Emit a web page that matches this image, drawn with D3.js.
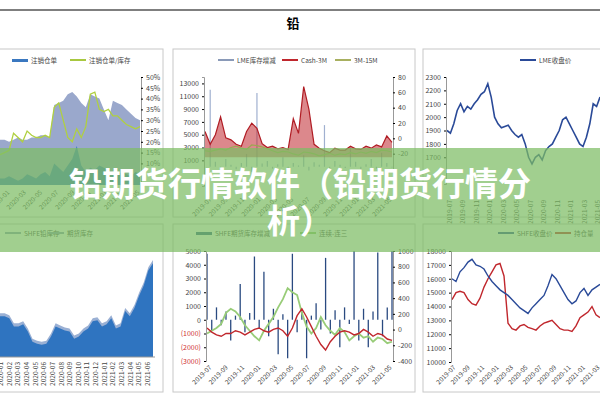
<!DOCTYPE html>
<html><head><meta charset="utf-8">
<script src="https://cdn.jsdelivr.net/npm/d3@7"></script>
<style>body{margin:0;background:#fff}text{font-family:"Noto Sans CJK SC","Noto Sans",sans-serif}</style>
</head><body>
<svg id="c" width="600" height="400"></svg>
<script>
// ---- data ----
const p1Stock = [21,21,20,21,22,21,21,22,22,23,23,22,37,38,39,42,43,41,38,36,42,41,40,35,30,39,38,37,35,33,31,30];
const p1Warrant = [3,3,4,3,2,3,5,4,3,5,6,4,10,8,6,9,12,18,9,6,8,7,9,8,7,6,5,6,5,4,6,5];
const p1Ratio = [14,15,16,24,22,20,25,23,22,22,23,22,36,38,30,22,20,26,22,27,42,43,35,34,35,32,32,30,28,27,26,27];

const p2Change = [0,12000,800,-500,1200,300,-400,600,2000,-800,11500,500,900,-300,400,1500,-200,600,200,1800,-600,700,300,6500,-400,900,300,-200,3000,800,-500,400,1200,-300,2200,600,-100];
const p2Cash = [5500,3500,5000,7800,4500,4200,3500,3200,5500,6800,6000,3600,3000,3200,2800,3000,2700,7500,5200,12500,9000,3500,2900,2500,2200,2900,2600,2600,3200,2800,2700,3200,2900,3400,3100,4800,3800];
const p2Spread = [2500,2400,2600,2800,2600,3000,3200,2900,2700,3400,3300,3100,2800,2500,2200,2400,2300,2000,1800,2300,2200,2000,1700,1900,2100,1800,2000,1900,2200,2000,2300,2100,2400,2200,2600,2500,2300];
const p2Left = [13000,11000,9000,7000,5000,3000,1000];
const p2Right = [80,60,40,20,0,-20];

const p3Price = [1900,1880,1950,2050,2100,2040,2080,2060,2100,2130,2170,2190,2250,2150,2000,1950,1920,1930,1940,1900,1870,1850,1870,1800,1700,1650,1700,1720,1680,1750,1780,1800,1850,1900,1980,2000,1950,1900,1850,1800,1780,1850,1950,2100,2080,2150];
const p3Ticks = [2300,2200,2100,2000,1900,1800,1700];

const p4Stock = [40,40,38,30,30,32,25,15,13,12,13,20,30,28,26,25,18,20,25,28,35,36,30,32,38,28,30,45,40,48,60,70,85,92];
const p4Months = ["2020-01","2020-02","2020-03","2020-04","2020-05","2020-06","2020-07","2020-08","2020-09","2020-10","2020-11","2020-12","2021-01","2021-02","2021-03","2021-04","2021-05","2021-06"];

const p5Change = [4800,-800,900,-400,600,-1500,300,2600,-900,500,4600,-600,3500,-1200,800,-2500,400,-2800,4800,-900,600,-2800,300,1200,-700,4500,-1000,700,-2000,900,-300,5000,-1500,800,-2000,600,4900,-1200,900,5000];
const p5Red = [-600,-900,-1100,-1200,-1000,-1000,-800,-900,-1100,-900,-700,-600,-800,-900,-700,-600,-800,-1200,-600,300,800,200,-500,-1200,-1800,-2200,-1600,-1200,-900,-800,-900,-1100,-1000,-700,-900,-1200,-1000,-1100,-1400,-1500];
const p5Green = [-1000,-800,-600,-300,500,800,600,200,-400,-800,-1200,-1500,-800,-300,200,900,1500,2300,2000,1800,500,-500,-1000,-600,200,-400,-800,-1100,-600,-900,-1500,-1200,-1000,-1300,-1200,-1600,-1300,-1400,-1700,-1600];
const p5Left = [5000,4000,3000,2000,1000,0,-1000,-2000,-3000];
const p5Right = [1000,800,600,400,200,0,-200,-400];
const p5Months = ["2019-07","2019-09","2019-11","2020-01","2020-03","2020-05","2020-07","2020-09","2020-11","2021-01","2021-03","2021-05"];

const p6Shfe = [16000,15800,16500,16800,17200,17400,17000,16900,16700,16200,15800,15500,15200,15000,14800,14500,14200,13900,13700,13500,13900,14200,14500,14800,15500,16300,16000,15500,15000,14500,14200,14400,15000,15300,14800,15200,15400,15600];
const p6Oi = [14500,15000,15100,15000,14500,14200,14100,14600,15400,16000,16500,17000,17100,16200,12800,12400,12300,12600,12700,12500,12400,12300,12600,12800,12900,13000,12700,12400,12300,12300,12200,12600,13200,13400,13600,14000,13400,13200];
const p6Ticks = [18000,17000,16000,15000,14000,13000,12000,11000,10000];
const p6Months = ["2019-07","2019-09","2019-11","2020-01","2020-03","2020-05","2020-07","2020-09","2020-11","2021-01","2021-03"];

const p1Months = ["2020-01","2020-03","2020-05","2020-07","2020-09","2020-11","2021-01","2021-03","2021-05"];
const p2Months = ["2019-07","2019-09","2019-11","2020-01","2020-03","2020-05","2020-07","2020-09","2020-11","2021-01","2021-03","2021-05"];
const p3Months = ["2019-07","2019-09","2019-11","2020-01","2020-03","2020-05","2020-07","2020-09","2020-11","2021-01","2021-03","2021-05"];

const svg = d3.select("#c");
const fmtPar = d => d < 0 ? `(${-d})` : d;

svg.append("line").attr("x1",0).attr("x2",600).attr("y1",10).attr("y2",10).attr("stroke","#555").attr("stroke-width",1.5);
svg.append("text").attr("x",293).attr("y",28).attr("text-anchor","middle").attr("font-size",13).attr("font-weight","bold").text("铅");

function frame(x0,y0,x1,y1){
  svg.append("rect").attr("x",x0).attr("y",y0).attr("width",x1-x0).attr("height",y1-y0)
    .attr("fill","#fff").attr("stroke","#c8c8c8");
}
function legend(items,y){
  items.forEach(([x,label,color,w]) => {
    svg.append("rect").attr("x",x).attr("y",y-2).attr("width",16).attr("height",w||2).attr("fill",color);
    svg.append("text").attr("x",x+19).attr("y",y+2).attr("font-size",6.5).attr("fill","#444").text(label);
  });
}
function axis(gen,x,y,scale,ticks,fmt,color){
  const g = svg.append("g").attr("transform",`translate(${x},${y})`)
    .call(gen(scale).tickValues(ticks).tickSize(2).tickFormat(fmt||(d=>d)));
  g.select(".domain").attr("stroke","#999");
  g.selectAll("text").attr("font-size",7).attr("fill",color||"#444");
  return g;
}
function dateLabels(months,x,y,rot,range){
  const s = d3.scalePoint().domain(months).range(range);
  months.forEach(m => svg.append("text").attr("transform",`translate(${s(m)},${y}) rotate(${rot})`)
    .attr("text-anchor","end").attr("font-size",6.5).attr("fill","#444").text(m));
}
const idx = (arr,r) => d3.scaleLinear().domain([0,arr.length-1]).range(r);
function line(arr,xs,ys,color,w){
  svg.append("path").datum(arr).attr("fill","none").attr("stroke",color).attr("stroke-width",w||1.3)
    .attr("d",d3.line().x((d,i)=>xs(i)).y(d=>ys(d)));
}
function area(arr,xs,ys,base,color){
  svg.append("path").datum(arr).attr("fill",color)
    .attr("d",d3.area().x((d,i)=>xs(i)).y0(ys(base)).y1(d=>ys(d)));
}

// panel 1
frame(-5,49,163,217);
legend([[12,"注销仓单","#3a78c0",3],[70,"注销仓单/库存","#a8c840"]],61);
{
  const y = d3.scaleLinear().domain([0,50]).range([185,77]);
  const x = idx(p1Stock,[0,140]);
  area(p1Stock,x,y,0,"#9aa8cc");
  area(p1Warrant,x,y,0,"#3a78c0");
  line(p1Ratio,x,y,"#b0d040",1.3);
  axis(d3.axisRight,141,0,y,[50,45,40,35,30,25,20,15,10],d=>d+"%");
  dateLabels(p1Months,0,193,-45,[10,140]);
}
// panel 2
frame(173,49,415,217);
legend([[218,"LME库存增减","#8a9ab8"],[282,"Cash-3M","#c0272d"],[335,"3M-15M","#a8b060"]],61);
{
  const y = d3.scaleLinear().domain([-3000,14000]).range([186,77]);
  const yr = d3.scaleLinear().domain([-40,80]).range([169,77]);
  const x = idx(p2Change,[205,392]);
  p2Change.forEach((v,i)=>svg.append("line").attr("x1",x(i)).attr("x2",x(i)).attr("y1",y(0)).attr("y2",y(v)).attr("stroke","#a0b0d0").attr("stroke-width",1.2));
  area(p2Cash,x,y,1500,"rgba(192,39,45,0.55)");
  line(p2Cash,x,y,"#b01c24",1.2);
  line(p2Spread,x,y,"#9aa850",1.2);
  axis(d3.axisLeft,204,0,y,p2Left);
  axis(d3.axisRight,393,0,yr,p2Right);
  dateLabels(p2Months,0,200,-45,[212,392]);
}
// panel 3
frame(423,49,605,217);
legend([[520,"LME收盘价","#2a4a98"]],61);
{
  const y = d3.scaleLinear().domain([1500,2300]).range([184,77]);
  const x = idx(p3Price,[447,600]);
  line(p3Price,x,y,"#2a4a98",1.6);
  axis(d3.axisLeft,446,0,y,p3Ticks);
  dateLabels(p3Months,0,200,-90,[452,600]);
}
// panel 4
frame(-5,224,163,392);
legend([[5,"SHFE铅库存","#8a9ab8"],[48,"期货库存","#8a9ab8"]],234);
{
  const y = d3.scaleLinear().domain([0,100]).range([357,255]);
  const x = idx(p4Stock,[0,153]);
  area(p4Stock.map(d=>d+3),x,y,0,"#9ab0d4");
  area(p4Stock,x,y,0,"#2f74c0");
  svg.append("line").attr("x1",0).attr("x2",155).attr("y1",357).attr("y2",357).attr("stroke","#999");
  dateLabels(p4Months,0,362,-90,[3,150]);
}
// panel 5
frame(173,224,415,392);
legend([[196,"SHFE期货库存增减","#2a5a88",3],[300,"连续-连三","#90c870"]],234);
{
  const y = d3.scaleLinear().domain([-3000,5000]).range([361,251]);
  const yr = d3.scaleLinear().domain([-400,1000]).range([361,251]);
  const x = idx(p5Change,[207,392]);
  p5Change.forEach((v,i)=>svg.append("line").attr("x1",x(i)).attr("x2",x(i)).attr("y1",y(0)).attr("y2",y(v)).attr("stroke","#2a4a80").attr("stroke-width",1.3));
  line(p5Green,x,y,"#98cc78",1.8);
  line(p5Red,x,y,"#c0272d",1.4);
  const gl = axis(d3.axisLeft,206,0,y,p5Left,fmtPar);
  gl.selectAll("text").attr("fill",d=>d<0?"#d03030":"#444");
  axis(d3.axisRight,393,0,yr,p5Right);
  dateLabels(p5Months,0,368,-45,[212,392]);
}
// panel 6
frame(423,224,605,392);
legend([[498,"SHFE收盘价","#2a4a98"],[555,"持仓量","#c0272d"]],234);
{
  const y = d3.scaleLinear().domain([10000,18000]).range([362,251]);
  const x = idx(p6Shfe,[452,600]);
  line(p6Oi,x,y,"#c0272d",1.4);
  line(p6Shfe,x,y,"#2a4a98",1.4);
  axis(d3.axisLeft,451,0,y,p6Ticks);
  dateLabels(p6Months,0,368,-45,[456,600]);
}

// banner
svg.append("rect").attr("x",0).attr("y",148).attr("width",600).attr("height",104).attr("fill","rgba(125,188,100,0.72)");
const t = svg.append("text").attr("text-anchor","middle").attr("fill","#fff").attr("font-size",33).attr("font-weight","bold");
t.append("tspan").attr("x",300).attr("y",196).text("铅期货行情软件（铅期货行情分");
t.append("tspan").attr("x",300).attr("y",233).text("析）");
</script>
</body></html>
